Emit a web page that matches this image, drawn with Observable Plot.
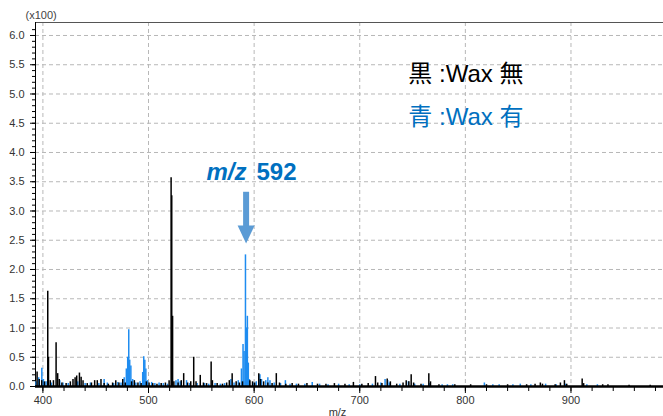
<!DOCTYPE html>
<html>
<head>
<meta charset="utf-8">
<script src="https://cdn.jsdelivr.net/npm/d3@7"></script>
<script src="https://cdn.jsdelivr.net/npm/@observablehq/plot@0.6"></script>
<style>
  html, body { margin: 0; padding: 0; background: #fff; }
  #chart svg { display: block; }
</style>
</head>
<body>
<div id="chart"></div>
<script>
// Black spectrum (Wax 無): m/z and intensity (x100)
const blackMz = [394.5,396.5,398.9,401.5,404.6,405.3,407,410,412.5,414,415.5,418,422,426,428.5,430.5,432,434.6,436.2,438,442,446,449,451.5,455,458,462,466,469,472,475.6,478,484,486.6,490,493,498,500.5,504,508,512,516,519.5,521.4,522,522.8,524,528,531,533.3,537,540,542.8,545,549,552,555,559.3,560.5,565,570,574,576.5,579.2,583,586,589,596,598.5,600.5,604.4,606,609,613,617,621,624,630,636,642,650,660,668,676,686,694,702,708,714.9,717,721,726,729,735,741,744,746.5,748.7,751,758,765.4,767,775,790,805,820,840,858,866,871,873,885,890,893.8,896,910.6,912,930,935,955,975];
const blackInt = [0.25,0.12,0.1,0.08,1.63,0.5,0.1,0.1,0.75,0.22,0.12,0.06,0.05,0.08,0.12,0.15,0.18,0.23,0.16,0.1,0.05,0.06,0.1,0.1,0.12,0.05,0.04,0.06,0.1,0.06,0.12,0.06,0.08,0.1,0.06,0.05,0.08,0.06,0.05,0.04,0.05,0.06,0.1,3.57,3.26,1.2,0.08,0.06,0.1,0.22,0.06,0.08,0.5,0.08,0.19,0.06,0.05,0.42,0.1,0.05,0.04,0.06,0.1,0.22,0.08,0.06,0.08,0.1,0.08,0.06,0.22,0.12,0.08,0.06,0.05,0.22,0.06,0.04,0.05,0.04,0.05,0.04,0.04,0.05,0.04,0.07,0.04,0.05,0.17,0.06,0.05,0.13,0.08,0.04,0.06,0.1,0.08,0.2,0.06,0.04,0.22,0.08,0.03,0.03,0.03,0.03,0.03,0.03,0.04,0.06,0.04,0.03,0.06,0.1,0.04,0.13,0.05,0.03,0.03,0.02,0.02];

// Blue spectrum (Wax 有)
const blueMz = [393.5,396,399,400.5,403,408,416,419,424,433,440,445,453,458,461,467,471,474,477,479,480.3,481.3,482.2,483.3,485,488,492,494.5,495.5,496.5,497.5,499,503,506,510,514,518,526,528,530,536,539,546,553,557,563,568,572,578,581,585,588,589.5,590.5,591.8,592.6,593.6,594.5,595.5,599,602,605.5,607,611,613,615,619,625,629.6,634,640,648,655,662,670,680,690,700,712,720,724,726.5,728,738,746,752,760,766,778,783,788,818,826,832,845,852,862,876,886,895,915,925];
const blueInt = [0.08,0.15,0.31,0.12,0.08,0.06,0.1,0.06,0.05,0.08,0.05,0.06,0.05,0.12,0.06,0.05,0.07,0.06,0.15,0.3,0.5,0.97,0.45,0.35,0.12,0.06,0.08,0.24,0.51,0.45,0.3,0.1,0.07,0.05,0.06,0.05,0.04,0.1,0.12,0.08,0.1,0.05,0.05,0.05,0.04,0.05,0.04,0.05,0.12,0.06,0.1,0.3,0.72,0.6,2.25,1.0,1.2,0.4,0.12,0.06,0.08,0.2,0.12,0.1,0.15,0.1,0.06,0.05,0.1,0.04,0.04,0.04,0.07,0.04,0.03,0.04,0.03,0.03,0.04,0.06,0.12,0.1,0.06,0.04,0.08,0.04,0.04,0.05,0.03,0.03,0.03,0.06,0.03,0.03,0.03,0.04,0.03,0.04,0.03,0.04,0.03,0.03];

// Axis ticks / labels
const xDomain = [393, 987.6];
const yDomain = [-0.017, 6.222];
const xMajor = [400, 500, 600, 700, 800, 900];
const xMinor = d3.range(400, 981, 20);
const yMajor = [0, 0.5, 1, 1.5, 2, 2.5, 3, 3.5, 4, 4.5, 5, 5.5, 6];
const yMinor = d3.range(0, 62).map(i => i / 10);
const yUnitLabel = "(x100)";
const xLabel = "m/z";
const legendBlack = "黒 :Wax 無";
const legendBlue = "青 :Wax 有";
const peakLabelItalic = "m/z";
const peakLabelNum = "592";

const blackData = blackMz.map((m, i) => ({mz: m, v: blackInt[i]}));
const blueData = blueMz.map((m, i) => ({mz: m, v: blueInt[i]}));

const downTriangle = {
  draw(ctx) {
    const w = 17, h = 18;
    ctx.moveTo(-w / 2, -h / 2);
    ctx.lineTo(w / 2, -h / 2);
    ctx.lineTo(0, h / 2);
    ctx.closePath();
  }
};

const jp = "'Liberation Sans', 'Noto Sans CJK JP', Arial, sans-serif";
const gridStyle = {stroke: "#b8b8b8", strokeOpacity: 1, strokeDasharray: "4,3"};

const chart = Plot.plot({
  width: 663,
  height: 416,
  marginLeft: 35,
  marginRight: 0,
  marginTop: 22,
  marginBottom: 29,
  style: {fontFamily: "'Liberation Sans', Arial, sans-serif", fontSize: "11px", color: "#333", background: "white", overflow: "hidden"},
  x: {domain: xDomain},
  y: {domain: yDomain},
  marks: [
    Plot.gridY(yMajor.filter(d => d > 0), gridStyle),
    Plot.gridX(xMajor, gridStyle),
    Plot.ruleY([yDomain[1]], {stroke: "#555", strokeWidth: 1}),
    Plot.ruleX([xDomain[0]], {stroke: "#000", strokeWidth: 1}),
    Plot.ruleX(blueData, {x: "mz", y1: 0, y2: "v", stroke: "#1e8cf0", strokeWidth: 1.5}),
    Plot.ruleX(blackData, {x: "mz", y1: 0, y2: "v", stroke: "#000", strokeWidth: 1.5}),
    Plot.ruleY([0], {stroke: "#000", strokeWidth: 2.5}),
    Plot.axisY(yMajor, {tickSize: 5, tickPadding: 6, tickFormat: d3.format(".1f"), label: null, stroke: "#000", fill: "#333"}),
    Plot.axisY(yMinor, {tickSize: 3, tickFormat: () => "", label: null, stroke: "#000"}),
    Plot.axisX(xMajor, {tickSize: 6, tickPadding: 3, tickFormat: "d", stroke: "#000", fill: "#333", label: null}),
    Plot.axisX(xMinor, {tickSize: 4, tickFormat: () => "", label: null, stroke: "#000"}),
    Plot.text([xLabel], {frameAnchor: "bottom", dx: -12, dy: 28, lineAnchor: "bottom", fill: "#333", fontSize: 11}),
    Plot.text([yUnitLabel], {frameAnchor: "top-left", dx: -10, dy: -4, textAnchor: "start", lineAnchor: "bottom", fill: "#444", fontSize: 11}),
    Plot.text([legendBlack], {x: 746, y: 5.34, textAnchor: "start", fill: "#000", fontSize: 24, fontFamily: jp}),
    Plot.text([legendBlue], {x: 746, y: 4.6, textAnchor: "start", fill: "#0070c0", fontSize: 24, fontFamily: jp}),
    Plot.text([peakLabelItalic], {x: 592.7, y: 3.66, textAnchor: "end", fill: "#0070c0", fontSize: 24, fontWeight: "bold", fontStyle: "italic"}),
    Plot.text([peakLabelNum], {x: 602.2, y: 3.66, textAnchor: "start", fill: "#0070c0", fontSize: 24, fontWeight: "bold"}),
    Plot.ruleX([592.4], {y1: 2.7, y2: 3.32, stroke: "#5b9bd5", strokeWidth: 6}),
    Plot.dot([0], {x: 592.4, y: 2.6, symbol: downTriangle, fill: "#5b9bd5", stroke: "none", r: 5})
  ]
});
document.getElementById("chart").appendChild(chart);
</script>
</body>
</html>
